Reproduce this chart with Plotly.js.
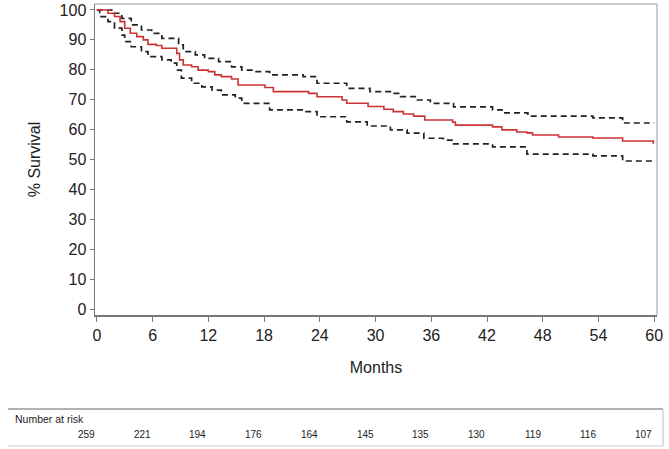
<!DOCTYPE html>
<html>
<head>
<meta charset="utf-8">
<script src="https://cdn.plot.ly/plotly-3.0.1.min.js"></script>
<style>html,body{margin:0;padding:0;background:#fff;}#chart{width:669px;height:449px;}</style>
</head>
<body>
<div id="chart"></div>
<script>
// Kaplan-Meier survival estimate (months, % survival)
var kmMonths = [0,1.2,1.9,2.5,3,3.6,4.3,5,5.5,6.4,7,8.6,8.9,9.3,10.2,10.9,12,12.7,13.4,14.5,15.2,18.1,19,22.8,23.7,26.4,26.9,29.2,30.9,31.9,33,34.1,35.3,38.3,38.6,42.6,43.6,45.2,46.3,46.9,49.7,53.4,56.6,59.9,60];
var kmSurvival = [100,98.9,97.8,96.1,93.9,92.2,91.1,90,88.5,88.1,87.2,85.5,83.3,81.6,81,79.9,79.4,78.3,77.7,76.9,74.9,74.1,72.7,72.1,71,69.9,68.8,67.7,66.8,66,65.2,64.5,63.2,62.5,61.5,60.9,59.9,59.2,58.9,58.2,57.5,57.2,56.2,55.5,55.5];
// Upper confidence limit
var upperMonths = [0,1.6,2.7,3.7,4.8,5.9,7,8.8,9.3,10.6,11.6,13.1,14.5,15.6,16.7,18.6,22.2,23.7,26.9,29.4,31.6,32.7,34.5,35.9,38.4,42.6,43.6,46.4,53.4,56.6,60];
var upperSurvival = [100,98.9,97.2,95,93.3,92.2,90.5,88.3,86.1,85,83.8,82.7,81,79.9,79.4,78.3,77.7,75.5,73.8,72.7,72.1,71,69.9,68.8,67.6,66.6,65.6,64.5,63.9,62.2,62.2];
// Lower confidence limit
var lowerMonths = [0,0.3,1.2,1.9,2.7,3,3.7,4.8,5.5,7,8,8.6,9.1,10.2,11.3,12.4,13.4,14.9,15.6,18.6,22.2,23.7,26.9,29.1,31.6,33.4,35.2,37.3,38.4,42.6,46.3,53.4,56.6,60];
var lowerSurvival = [100,97.8,96.1,93.9,91.6,89.4,87.7,86.1,84.4,83.3,82.2,79.9,77.2,75.5,74.3,73.2,71.6,70.5,68.8,66.6,66,64.3,62.6,61.2,59.9,58.8,57.1,56.5,55.2,54.2,51.8,51.2,49.5,49.5];
// Number at risk table
var riskMonths = [0,6,12,18,24,30,36,42,48,54,60];
var riskCounts = [259,221,194,176,164,145,135,130,119,116,107];
var xTicks = [0,6,12,18,24,30,36,42,48,54,60];
var yTicks = [0,10,20,30,40,50,60,70,80,90,100];

var FONT = 'Liberation Sans, Arial, sans-serif';

var traces = [
  {x: upperMonths, y: upperSurvival, mode: 'lines', line: {shape: 'hv', color: '#222', width: 1.7, dash: '6px,4px'}, hoverinfo: 'skip'},
  {x: lowerMonths, y: lowerSurvival, mode: 'lines', line: {shape: 'hv', color: '#222', width: 1.7, dash: '6px,4px'}, hoverinfo: 'skip'},
  {x: kmMonths, y: kmSurvival, mode: 'lines', line: {shape: 'hv', color: '#cc3333', width: 1.6}}
];

var annotations = [{
  text: 'Number at risk', xref: 'paper', yref: 'paper', x: -0.146, y: -0.334,
  xanchor: 'left', yanchor: 'middle', showarrow: false,
  font: {family: FONT, size: 10.5, color: '#222'}
}];
riskMonths.forEach(function (m, i) {
  annotations.push({
    text: String(riskCounts[i]), xref: 'x', yref: 'paper', x: m, y: -0.383,
    xanchor: 'right', yanchor: 'middle', showarrow: false,
    font: {family: FONT, size: 10, color: '#222'}
  });
});

var layout = {
  width: 669, height: 449,
  margin: {l: 95, r: 12, t: 4, b: 134},
  paper_bgcolor: '#fff', plot_bgcolor: '#fff',
  showlegend: false,
  font: {family: FONT, size: 16, color: '#222'},
  xaxis: {
    range: [-0.2, 60.3], tickvals: xTicks, ticktext: xTicks.map(String),
    ticks: 'outside', ticklen: 5, tickcolor: '#777', tickwidth: 1,
    showline: true, linecolor: '#777', linewidth: 1.5,
    showgrid: false, zeroline: false,
    tickfont: {family: FONT, size: 16, color: '#222'},
    title: {text: 'Months', standoff: 19, font: {family: FONT, size: 16, color: '#222'}}
  },
  yaxis: {
    range: [-2, 102], tickvals: yTicks, ticktext: yTicks.map(String),
    ticks: 'outside', ticklen: 4, tickcolor: '#777', tickwidth: 1,
    showline: true, linecolor: '#777', linewidth: 1.5,
    showgrid: false, zeroline: false,
    tickfont: {family: FONT, size: 16, color: '#222'},
    title: {text: '% Survival', standoff: 15, font: {family: FONT, size: 16, color: '#222'}}
  },
  shapes: [
    {type: 'line', xref: 'paper', yref: 'paper', x0: 0, x1: 1, y0: 1, y1: 1, line: {color: '#bbb', width: 1.5}},
    {type: 'line', xref: 'paper', yref: 'paper', x0: 1, x1: 1, y0: 0, y1: 1, line: {color: '#bbb', width: 1.5}},
    {type: 'line', xref: 'paper', yref: 'paper', x0: -0.155, x1: 1.0107, y0: -0.302, y1: -0.302, line: {color: '#999', width: 1.5}},
    {type: 'line', xref: 'paper', yref: 'paper', x0: -0.155, x1: 1.0107, y0: -0.421, y1: -0.421, line: {color: '#ccc', width: 1}},
    {type: 'line', xref: 'paper', yref: 'paper', x0: 1.0107, x1: 1.0107, y0: -0.302, y1: -0.421, line: {color: '#bbb', width: 1}}
  ],
  annotations: annotations
};

Plotly.newPlot('chart', traces, layout, {displayModeBar: false, staticPlot: true});
</script>
</body>
</html>
